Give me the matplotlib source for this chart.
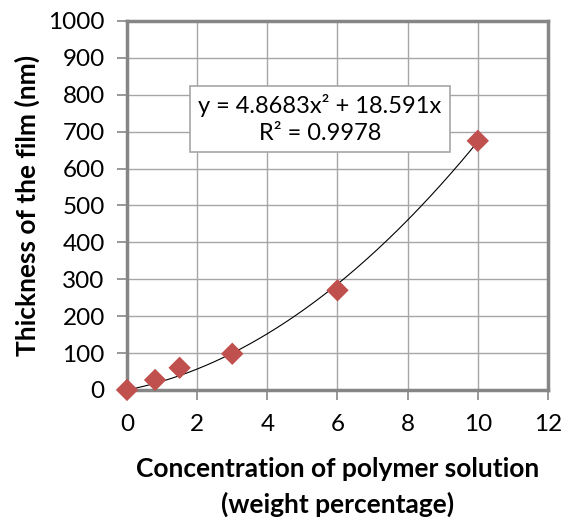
import numpy as np
import matplotlib
matplotlib.use("Agg")
import matplotlib.pyplot as plt

# measured film thickness vs. polymer concentration
concentration = [0, 0.8, 1.5, 3, 6, 10]
thickness = [0, 27, 60, 98, 270, 675]

# polynomial trendline (no intercept)
coef_a = 4.8683
coef_b = 18.591
r_squared = 0.9978

x_ticks = [0, 2, 4, 6, 8, 10, 12]
y_ticks = list(range(0, 1001, 100))

plt.rcParams['font.family'] = ['Lato', 'DejaVu Sans']

fig = plt.figure(figsize=(5.62, 5.22), dpi=100)
ax = fig.add_axes([0.226, 0.253, 0.749, 0.707])

xf = np.linspace(0, max(concentration), 200)
yf = coef_a * xf**2 + coef_b * xf
ax.plot(xf, yf, color='black', lw=0.8, zorder=3)

ax.scatter(concentration, thickness, marker='D', s=130, color='#C0504D',
           edgecolors='none', zorder=4, clip_on=False)

ax.set_xlim(0, 12)
ax.set_ylim(0, 1000)
ax.set_xticks(x_ticks)
ax.set_yticks(y_ticks)
ax.grid(True, color='#a6a6a6', lw=1.0)
ax.set_axisbelow(True)

for sp in ax.spines.values():
    sp.set_color('#868686')
    sp.set_linewidth(2.5)

ax.tick_params(axis='both', direction='out', length=7, width=1.2,
               color='#868686', labelsize=17.5)
ax.tick_params(axis='x', pad=10)
ax.tick_params(axis='y', pad=9)

ax.set_ylabel('Thickness of the film (nm)', fontsize=19, fontweight='bold',
              labelpad=6)
ax.set_xlabel('Concentration of polymer solution\n(weight percentage)',
              fontsize=19, fontweight='bold', labelpad=16, linespacing=1.5)

eq = f'y = {coef_a}x\u00b2 + {coef_b}x\nR\u00b2 = {r_squared}'
ax.text(5.5, 734, eq, ha='center', va='center', fontsize=17,
        linespacing=1.3, zorder=5,
        bbox=dict(boxstyle='square,pad=0.35', facecolor='white',
                  edgecolor='#a6a6a6', lw=1.2))

fig.savefig('out.png', dpi=100)
